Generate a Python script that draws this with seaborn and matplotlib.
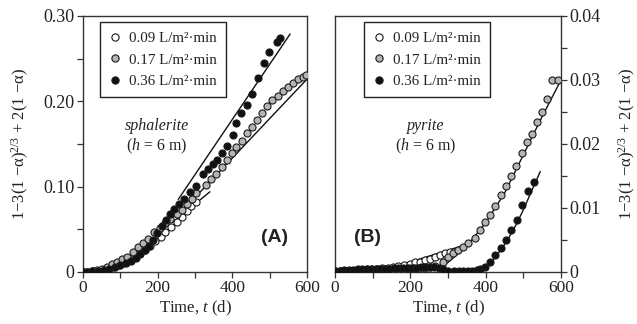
import numpy as np
import pandas as pd
import matplotlib
matplotlib.use("Agg")
import matplotlib.pyplot as plt
from matplotlib.lines import Line2D
from matplotlib.ticker import MultipleLocator
import seaborn as sns

# ---------------- data ----------------
rates = ["0.09 L/m²·min", "0.17 L/m²·min", "0.36 L/m²·min"]

# Panel A (sphalerite)
A_t_009 = [0, 12, 26, 40, 54, 68, 82, 96, 110, 124, 138, 152, 166, 180, 193, 208, 220, 237, 251, 264, 278, 289, 303]
A_v_009 = [0.0, 0.0002, 0.0007, 0.0015, 0.0025, 0.004, 0.006, 0.008, 0.011, 0.014, 0.018, 0.022, 0.026, 0.031,
           0.036, 0.041, 0.047, 0.053, 0.059, 0.065, 0.071, 0.077, 0.082]

A_t_017 = [0, 10, 23, 37, 50, 64, 77, 90, 104, 117, 135, 148, 161, 175, 190, 206, 220, 233, 251, 264, 278, 291, 303,
           329, 343, 357, 371, 385, 398, 411, 425, 439, 452, 466, 480, 493, 507, 521, 535, 549, 563, 577, 588, 598]
A_v_017 = [0.0, 0.0003, 0.001, 0.002, 0.004, 0.006, 0.009, 0.012, 0.015, 0.018, 0.024, 0.029, 0.034, 0.039, 0.047,
           0.051, 0.057, 0.062, 0.068, 0.073, 0.080, 0.086, 0.092,
           0.102, 0.109, 0.115, 0.123, 0.131, 0.139, 0.146, 0.154, 0.163, 0.170, 0.178, 0.186, 0.195, 0.201, 0.206,
           0.212, 0.217, 0.222, 0.226, 0.229, 0.231]

A_t_036 = [0, 12, 25, 40, 55, 70, 85, 100, 115, 128, 141, 154, 166, 177, 187, 198, 211, 222, 233, 245, 258, 271,
           286, 302, 322, 336, 347, 358, 371, 387, 403, 411, 423, 438, 454, 470, 485, 499, 519, 528]
A_v_036 = [0.0, 0.0002, 0.0006, 0.0012, 0.002, 0.0035, 0.0055, 0.008, 0.0105, 0.013, 0.016, 0.021, 0.026, 0.031,
           0.038, 0.046, 0.054, 0.061, 0.068, 0.074, 0.080, 0.086, 0.094, 0.101, 0.115, 0.121, 0.126, 0.131, 0.140,
           0.148, 0.161, 0.175, 0.186, 0.196, 0.209, 0.227, 0.245, 0.258, 0.270, 0.274]

A_fit_t_009 = [240, 340]
A_fit_v_009 = [0.058, 0.094]
A_fit_t_017 = [310, 600]
A_fit_v_017 = [0.092, 0.226]
A_fit_t_036 = [255, 555]
A_fit_v_036 = [0.085, 0.279]

# Panel B (pyrite)
B_t_009 = [0, 14, 28, 42, 56, 70, 84, 98, 112, 126, 140, 154, 168, 182, 198, 212, 226, 239, 252, 265, 279, 292, 305]
B_v_009 = [0.0001, 0.0001, 0.0002, 0.0002, 0.0003, 0.0003, 0.0004, 0.0004, 0.0005, 0.0006, 0.0007, 0.0008, 0.0009,
           0.0011, 0.0013, 0.0015, 0.0016, 0.0018, 0.0020, 0.0023, 0.0026, 0.0029, 0.0032]

B_t_017 = [0, 14, 28, 42, 56, 70, 84, 98, 112, 126, 140, 154, 168, 182, 196, 210, 224, 238, 252, 266,
           288, 301, 314, 327, 341, 354, 372, 385, 398, 411, 425, 440, 453, 466, 481, 496, 509, 522, 537, 550,
           564, 577, 593]
B_v_017 = [0.0001, 0.0001, 0.0002, 0.0002, 0.0002, 0.0003, 0.0003, 0.0003, 0.0004, 0.0004, 0.0004, 0.0005, 0.0005,
           0.0005, 0.0006, 0.0006, 0.0006, 0.0007, 0.0008, 0.0010,
           0.0016, 0.0023, 0.0029, 0.0034, 0.0039, 0.0045, 0.0053, 0.0065, 0.0078, 0.0089, 0.0103, 0.0120, 0.0135,
           0.0150, 0.0166, 0.0186, 0.0203, 0.0215, 0.0234, 0.0250, 0.0271, 0.0300, 0.0300]

B_t_036 = [0, 12, 24, 36, 48, 60, 72, 84, 96, 108, 120, 132, 144, 156, 168, 180, 192, 204, 216, 228, 240, 252,
           264, 276, 288, 300, 315, 328, 340, 352, 365, 378, 385, 398, 411, 425, 440, 454, 466, 482, 496, 512, 527]
B_v_036 = [0.0002, 0.0002, 0.0003, 0.0003, 0.0003, 0.0004, 0.0004, 0.0004, 0.0004, 0.0005, 0.0005, 0.0005,
           0.0005, 0.0006, 0.0006, 0.0006, 0.0007, 0.0007, 0.0007, 0.0008, 0.0008, 0.0008, 0.0008, 0.0007, 0.0005,
           0.0002, 0.0001, 0.0001, 0.0001, 0.0001, 0.0002, 0.0003, 0.0004, 0.0008, 0.0016, 0.0027, 0.0037, 0.0050,
           0.0066, 0.0081, 0.0105, 0.0126, 0.0140]

B_fit_t_009 = [180, 333]
B_fit_v_009 = [0.0012, 0.0040]
B_fit_t_017 = [270, 300, 330, 360, 400, 450, 500, 550, 600]
B_fit_v_017 = [0.0005, 0.0015, 0.0030, 0.0048, 0.0077, 0.0123, 0.0183, 0.0243, 0.0300]
B_fit_t_036 = [385, 400, 420, 440, 460, 480, 500, 520, 545]
B_fit_v_036 = [0.0002, 0.0008, 0.0019, 0.0034, 0.0052, 0.0073, 0.0097, 0.0124, 0.0157]

# ---------------- style ----------------
sns.set_theme(style="ticks")
plt.rcParams["font.family"] = ["Liberation Serif", "DejaVu Serif"]
plt.rcParams["mathtext.fontset"] = "custom"
plt.rcParams["mathtext.rm"] = "Liberation Serif"
plt.rcParams["mathtext.it"] = "Liberation Serif:italic"
plt.rcParams["mathtext.bf"] = "Liberation Serif:bold"

FS_YT = 13
FS_XT = 12.5
FS_LAB = 12
FS_LEG = 10.8
FS_TXT = 11.5
TXT = "#222222"
face = {rates[0]: "white", rates[1]: "#b4b4b4", rates[2]: "#111111"}
EDGE = "#1a1a1a"
MS = 26

fig = plt.figure(figsize=(6.37, 3.24), dpi=100)
axA = fig.add_axes([83 / 637, 1 - 272 / 324, 224 / 637, 256 / 324])
axB = fig.add_axes([335 / 637, 1 - 272 / 324, 226 / 637, 256 / 324])


def draw(ax, pts, fits):
    for (t, v), r in zip(pts, rates):
        df = pd.DataFrame({"t": t, "v": v})
        sns.scatterplot(data=df, x="t", y="v", ax=ax, color=face[r], edgecolor=EDGE,
                        linewidth=0.8, s=MS, zorder=3, legend=False)
    for t, v in fits:
        df = pd.DataFrame({"t": t, "v": v})
        sns.lineplot(data=df, x="t", y="v", ax=ax, color="#111111", lw=1.0, sort=False,
                     estimator=None, zorder=2, legend=False)


draw(axA, [(A_t_009, A_v_009), (A_t_017, A_v_017), (A_t_036, A_v_036)],
     [(A_fit_t_009, A_fit_v_009), (A_fit_t_017, A_fit_v_017), (A_fit_t_036, A_fit_v_036)])
draw(axB, [(B_t_009, B_v_009), (B_t_017, B_v_017), (B_t_036, B_v_036)],
     [(B_fit_t_009, B_fit_v_009), (B_fit_t_017, B_fit_v_017), (B_fit_t_036, B_fit_v_036)])

ylab = "1−3(1 −α)$^{2/3}$ + 2(1 −α)"
for ax in (axA, axB):
    ax.set_xlim(0, 600)
    ax.xaxis.set_major_locator(MultipleLocator(200))
    ax.xaxis.set_minor_locator(MultipleLocator(100))
    ax.set_xlabel("Time, $t$ (d)", fontsize=FS_LAB, labelpad=2, color=TXT)
    for s in ax.spines.values():
        s.set_visible(True)
        s.set_linewidth(1.0)
        s.set_color("#333333")
    ax.tick_params(which="both", direction="out", length=4, width=0.9, color="#333333",
                   labelcolor=TXT, pad=2)
    ax.tick_params(axis="x", labelsize=FS_XT, top=False)
    ax.tick_params(axis="y", labelsize=FS_YT)

axA.set_ylim(0, 0.30)
axA.yaxis.set_major_locator(MultipleLocator(0.10))
axA.yaxis.set_minor_locator(MultipleLocator(0.05))
axA.set_yticks([0, 0.10, 0.20, 0.30])
axA.set_yticklabels(["0", "0.10", "0.20", "0.30"])
axA.tick_params(axis="y", which="both", right=False)
axA.set_ylabel(ylab, fontsize=FS_LAB, labelpad=9, color=TXT)

axB.set_ylim(0, 0.04)
axB.yaxis.tick_right()
axB.yaxis.set_label_position("right")
axB.yaxis.set_major_locator(MultipleLocator(0.01))
axB.yaxis.set_minor_locator(MultipleLocator(0.005))
axB.set_yticks([0, 0.01, 0.02, 0.03, 0.04])
axB.set_yticklabels(["0", "0.01", "0.02", "0.03", "0.04"])
axB.tick_params(axis="y", which="both", left=False, right=True)
axB.set_ylabel(ylab, fontsize=FS_LAB, labelpad=12, color=TXT)

handles = [Line2D([], [], ls="none", marker="o", markersize=5.2, markerfacecolor=face[r],
                  markeredgecolor=EDGE, markeredgewidth=0.8) for r in rates]
for ax, x0 in ((axA, 0.076), (axB, 0.128)):
    leg = ax.legend(handles, rates, loc="upper left", bbox_to_anchor=(x0, 0.975), fontsize=FS_LEG,
                    frameon=True, fancybox=False, framealpha=1, edgecolor="#222222",
                    handlelength=0.8, handletextpad=0.55, labelspacing=0.55, borderpad=0.6,
                    borderaxespad=0)
    leg.get_frame().set_linewidth(1.0)
    for txt in leg.get_texts():
        txt.set_color(TXT)

axA.text(0.33, 0.57, "sphalerite", transform=axA.transAxes, ha="center", va="center",
         fontsize=FS_TXT, style="italic", color=TXT)
axA.text(0.33, 0.49, "($h$ = 6 m)", transform=axA.transAxes, ha="center", va="center",
         fontsize=FS_TXT, color=TXT)
axB.text(0.40, 0.57, "pyrite", transform=axB.transAxes, ha="center", va="center",
         fontsize=FS_TXT, style="italic", color=TXT)
axB.text(0.40, 0.49, "($h$ = 6 m)", transform=axB.transAxes, ha="center", va="center",
         fontsize=FS_TXT, color=TXT)

axA.text(0.857, 0.133, "(A)", transform=axA.transAxes, ha="center", va="center",
         fontsize=14, fontweight="bold", family=["Liberation Sans", "DejaVu Sans"], color=TXT)
axB.text(0.146, 0.133, "(B)", transform=axB.transAxes, ha="center", va="center",
         fontsize=14, fontweight="bold", family=["Liberation Sans", "DejaVu Sans"], color=TXT)

fig.savefig("out.png", dpi=100)
